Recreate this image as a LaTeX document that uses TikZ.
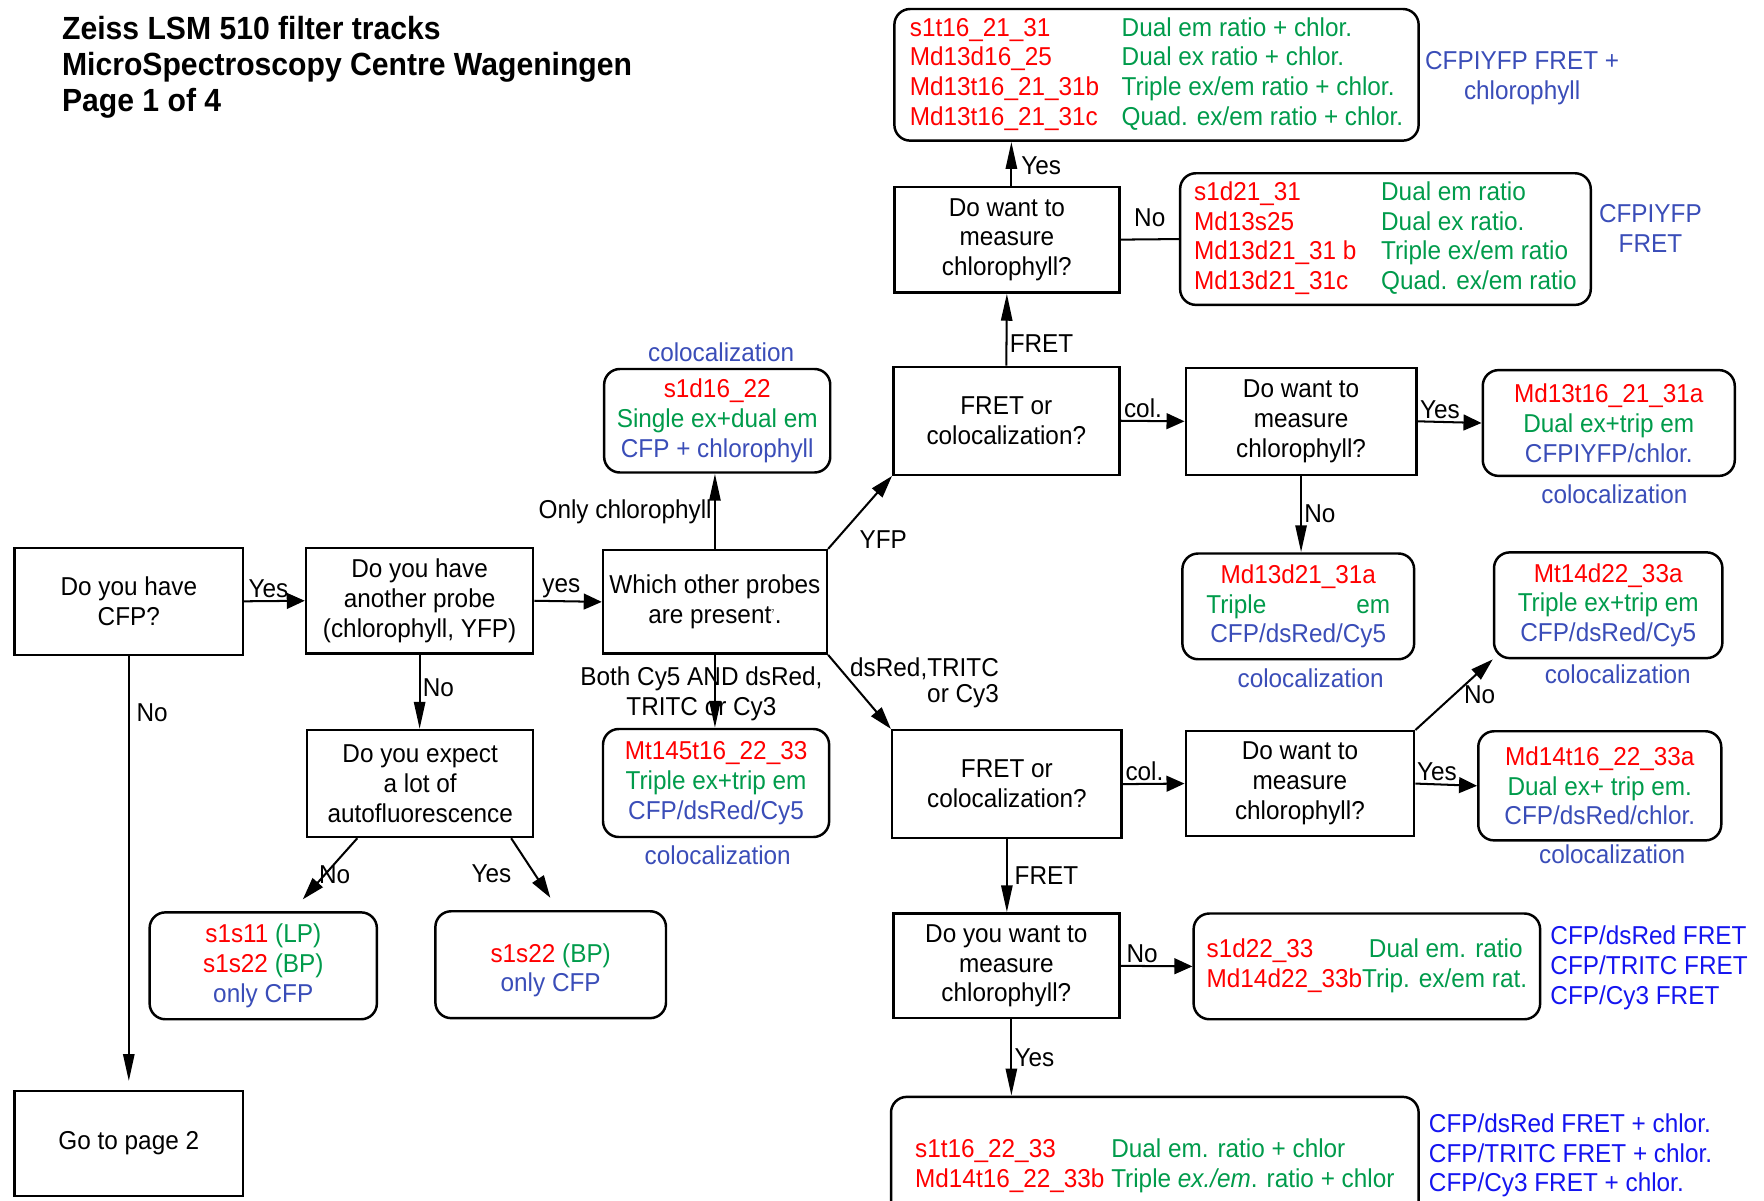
\documentclass[tikz,border=0pt]{standalone}
\usepackage{fontspec}
\setmainfont[FakeStretch=0.94]{Liberation Sans}
\usetikzlibrary{arrows.meta}

\definecolor{trkred}{RGB}{255,0,0}
\definecolor{trkgreen}{RGB}{0,155,75}
\definecolor{trkblue}{RGB}{58,77,184}
\definecolor{fretblue}{RGB}{20,20,240}
\newcommand{\tred}[1]{\textcolor{trkred}{#1}}
\newcommand{\tgreen}[1]{\textcolor{trkgreen}{#1}}
\newcommand{\tblue}[1]{\textcolor{trkblue}{#1}}

\begin{document}
\begin{tikzpicture}[x=1pt, y=-1pt,
    font=\fontsize{23}{26.5}\selectfont,
    qbox/.style={draw, line width=2.2pt, inner sep=0pt, align=center},
    tbox/.style={draw, line width=2.2pt, rounded corners=14pt, inner sep=0pt, align=center},
    lbl/.style={inner sep=2pt},
    note/.style={text=trkblue, align=center, inner sep=0pt},
    arr/.style={line width=1.8pt, -{Triangle[length=16pt,width=14pt]}},
    varr/.style={line width=1.8pt, -{Triangle[length=24pt,width=10pt]}},
    darr/.style={line width=1.8pt, -{Triangle[length=20pt,width=12pt]}}]
    \useasboundingbox (0,0) rectangle (1568,1067);

    \node[anchor=west, align=left, inner sep=0pt, font=\fontsize{28.5}{32}\selectfont\bfseries] (title) at (55,60)
        {Zeiss LSM 510 filter tracks\\MicroSpectroscopy Centre Wageningen\\Page 1 of 4};

    % questions, left part
    \node[qbox, minimum width=203, minimum height=95] (q1) at (114.5,534.5) {Do you have\\CFP?};
    \node[qbox, minimum width=202, minimum height=94] (q2) at (373,534) {Do you  have\\another probe\\(chlorophyll,  YFP)};
    \node[qbox, minimum width=199, minimum height=92] (q3) at (635.5,535) {Which other probes\\are present\textsuperscript{\tiny ?}.};
    \node[qbox, minimum width=201, minimum height=95] (q4) at (373.5,696.5) {Do you expect\\a lot of\\autofluorescence};
    \node[qbox, minimum width=203, minimum height=93] (page2) at (114.5,1016.5) {Go to page 2};

    \node[tbox, minimum width=201, minimum height=92] (chl) at (637.5,374)
        {\tred{s1d16\_22}\\\tgreen{Single ex+dual em}\\\tblue{CFP + chlorophyll}};
    \node[tbox, minimum width=202, minimum height=95] (lp) at (234,858.5)
        {\tred{s1s11} \tgreen{(LP)}\\\tred{s1s22} \tgreen{(BP)}\\\tblue{only CFP}};
    \node[tbox, minimum width=205, minimum height=95] (bp) at (489.5,857.5)
        {~\\\tred{s1s22} \tgreen{(BP)}\\\tblue{only CFP}};
    \node[tbox, minimum width=201, minimum height=96] (cy5) at (636.5,696)
        {\tred{Mt145t16\_22\_33}\\\tgreen{Triple ex+trip em}\\\tblue{CFP/dsRed/Cy5}};

    % YFP branch
    \node[qbox, minimum width=201, minimum height=96] (fy) at (894.5,374) {FRET or\\colocalization?};
    \node[qbox, minimum width=200, minimum height=94] (chy) at (895,213) {Do want to\\measure\\chlorophyll?};
    \node[qbox, minimum width=205, minimum height=95] (cyc) at (1156.5,374.5) {Do want to\\measure\\chlorophyll?};
    \node[tbox, minimum width=466, minimum height=117] (yfpchl) at (1028,66.5)
        {\begin{tabular}{@{}l@{\hspace{20pt}}l@{}}
            \tred{s1t16\_21\_31} & \tgreen{Dual em ratio + chlor.}\\
            \tred{Md13d16\_25} & \tgreen{Dual ex ratio + chlor.}\\
            \tred{Md13t16\_21\_31b} & \tgreen{Triple ex/em ratio + chlor.}\\
            \tred{Md13t16\_21\_31c} & \tgreen{Quad. ex/em ratio + chlor.}
        \end{tabular}};
    \node[tbox, minimum width=365, minimum height=117] (yfpno) at (1231.5,212.5)
        {\begin{tabular}{@{}l@{\hspace{22pt}}l@{}}
            \tred{s1d21\_31} & \tgreen{Dual em ratio}\\
            \tred{Md13s25} & \tgreen{Dual ex ratio.}\\
            \tred{Md13d21\_31 b} & \tgreen{Triple ex/em ratio}\\
            \tred{Md13d21\_31c} & \tgreen{Quad. ex/em ratio}
        \end{tabular}};
    \node[tbox, minimum width=224, minimum height=94] (colyes) at (1430,376)
        {\tred{Md13t16\_21\_31a}\\\tgreen{Dual ex+trip em}\\\tblue{CFPIYFP/chlor.}};
    \node[tbox, minimum width=206, minimum height=94] (colno) at (1154,539)
        {\tred{Md13d21\_31a}\\\tgreen{Triple\hspace{80pt}em}\\\tblue{CFP/dsRed/Cy5}};
    \node[note] (yfpchlnote) at (1353,69.5) {CFPIYFP FRET +\\chlorophyll};
    \node[note] (yfpnote) at (1467,203) {CFPIYFP\\FRET};

    % dsRed branch
    \node[qbox, minimum width=204, minimum height=96] (fd) at (895,697) {FRET or\\colocalization?};
    \node[qbox, minimum width=203, minimum height=93] (cd) at (1155.5,696.5) {Do want to\\measure\\chlorophyll?};
    \node[qbox, minimum width=201, minimum height=93] (cdf) at (894.5,858.5) {Do you want to\\measure\\chlorophyll?};
    \node[tbox, minimum width=203, minimum height=94] (dno) at (1429.5,538)
        {\tred{Mt14d22\_33a}\\\tgreen{Triple ex+trip em}\\\tblue{CFP/dsRed/Cy5}};
    \node[tbox, minimum width=216, minimum height=97] (dyes) at (1422,698.5)
        {\tred{Md14t16\_22\_33a}\\\tgreen{Dual ex+ trip em.}\\\tblue{CFP/dsRed/chlor.}};
    \node[tbox, minimum width=308, minimum height=94] (dfno) at (1215,859)
        {\begin{tabular}{@{}l@{}l@{}}
            \tred{s1d22\_33} & \tgreen{\hspace{6pt}Dual em. ratio}\\
            \tred{Md14d22\_33b} & \tgreen{Trip. ex/em rat.}
        \end{tabular}};
    \node[tbox, minimum width=469, minimum height=124] (dfyes) at (1026.5,1037)
        {\begin{tabular}{@{}l@{\hspace{6pt}}l@{}}
            \tred{s1t16\_22\_33} & \tgreen{Dual em. ratio + chlor}\\
            \tred{Md14t16\_22\_33b} & \tgreen{Triple \textit{ex./em}. ratio + chlor}
        \end{tabular}};
    \node[note, text=fretblue, align=left, anchor=west] (dfnote) at (1378,860)
        {CFP/dsRed FRET\\CFP/TRITC FRET\\CFP/Cy3 FRET};
    \node[note, text=fretblue, align=left, anchor=west] (dfyesnote) at (1270,1027)
        {CFP/dsRed FRET + chlor.\\CFP/TRITC FRET + chlor.\\CFP/Cy3 FRET + chlor.};

    % colocalization labels
    \node[note] (coloc1) at (641,313) {colocalization};
    \node[note] (coloc2) at (638,760) {colocalization};
    \node[note] (coloc3) at (1435,439) {colocalization};
    \node[note] (coloc4) at (1165,603) {colocalization};
    \node[note] (coloc5) at (1438,599) {colocalization};
    \node[note] (coloc6) at (1433,759) {colocalization};

    % connectors
    \draw[arr] (q1.east) -- node[lbl, above, pos=0.4] (l1) {Yes} (q2.west);
    \draw[arr] (q2.east) -- node[lbl, above, pos=0.4] (l2) {yes} (q3.west);
    \draw[varr] (q3.north) -- node[lbl, left, pos=0.5] (l3) {Only chlorophyll} (q3.north |- chl.south);
    \draw[darr] (q3.north east) -- node[lbl, below right, pos=0.3, xshift=8pt] (l4) {YFP} (fy.south west);
    \draw[varr] (q3.south) -- node[lbl, align=center, xshift=-12pt, yshift=-2pt] (l5)
        {Both  Cy5 AND dsRed,\\TRITC or  Cy3} (q3.south |- cy5.north);
    \draw[darr] (q3.south east) -- node[lbl, anchor=west, align=right, pos=0.3, yshift=-5pt,
        font=\fontsize{23}{23}\selectfont] (l6) {dsRed,TRITC\\or Cy3} (fd.north west);
    \draw[varr] (q2.south) -- node[lbl, right, pos=0.45] (l7) {No} (q2.south |- q4.north);
    \draw[varr, shorten >=8pt] (q1.south) -- node[lbl, right, pos=0.13, xshift=4pt] (l8) {No} (page2.north);
    \draw[darr, shorten >=14pt] (q4.221.6) -- node[lbl, right, pos=0.5, xshift=-8pt] (l9) {No} (lp.62);
    \draw[darr, shorten >=13pt] (q4.329.8) -- node[lbl, left, pos=0.5, xshift=-18pt] (l10) {Yes} (bp.82);

    \draw[varr] (fy.north) -- node[lbl, right, pos=0.3] (l11) {FRET} (chy.south);
    \draw[varr] (chy.north -| 899,0) -- node[lbl, right, pos=0.45, xshift=6pt] (l12) {Yes} (yfpchl.south -| 899,0);
    \draw[line width=1.8pt] (chy.east) -- node[lbl, above, pos=0.5, yshift=8pt] (l13) {No} (yfpno.west);
    \draw[arr] (fy.east) -- node[lbl, above, pos=0.35] (l14) {col.} (cyc.west);
    \draw[arr] (cyc.east) -- node[lbl, above, pos=0.35] (l15) {Yes} (colyes.west);
    \draw[varr] (cyc.south) -- node[lbl, right, pos=0.5] (l16) {No} (cyc.south |- colno.north);

    \draw[arr] (fd.east) -- node[lbl, above, pos=0.35] (l17) {col.} (cd.west);
    \draw[darr] (cd.north east) -- node[lbl, right, pos=0.5, xshift=6pt] (l18) {No} (dno.south west);
    \draw[arr] (cd.east) -- node[lbl, above, pos=0.35] (l19) {Yes} (dyes.west);
    \draw[varr] (fd.south) -- node[lbl, right, pos=0.5, xshift=4pt] (l20) {FRET} (fd.south |- cdf.north);
    \draw[arr] (cdf.east) -- node[lbl, above, pos=0.3] (l21) {No} (dfno.west);
    \draw[varr] (cdf.south -| 899,0) -- node[lbl, right, pos=0.5] (l22) {Yes} (dfyes.north -| 899,0);
\end{tikzpicture}
\end{document}
